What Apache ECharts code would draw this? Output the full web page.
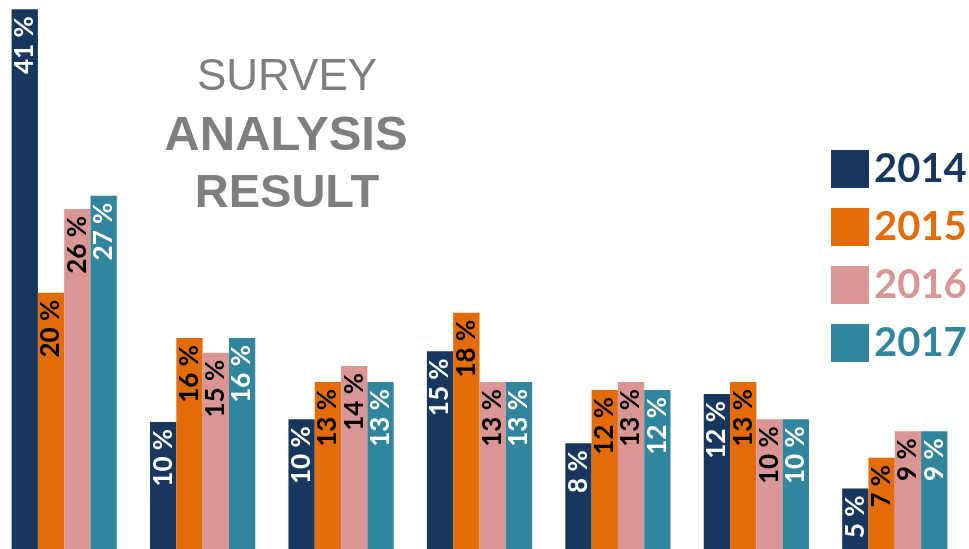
<!DOCTYPE html>
<html>
<head>
<meta charset="utf-8">
<style>
    html, body { margin: 0; padding: 0; background: #ffffff; overflow: hidden; }
    body { width: 969px; height: 549px; position: relative; }
    /* 图表容器往左上挪一点，让柱子贴到画面边缘 */
    #chart { position: absolute; left: -5px; top: -4px; width: 974px; height: 559px; }
</style>
<script src="https://cdn.jsdelivr.net/npm/echarts@6/dist/echarts.min.js"></script>
</head>
<body>
<div id="chart"></div>
<script>
// 分组（图中没有类目文字）
const groups = ['A', 'B', 'C', 'D', 'E', 'F', 'G']
const years = ['2014', '2015', '2016', '2017']
// 各年份数值（从图上量出来的，标签显示取整）
const data2014 = [41.0, 10.0, 10.2, 15.3, 8.4, 12.1, 5.0]
const data2015 = [19.7, 16.3, 13.0, 18.2, 12.4, 13.0, 7.3]
const data2016 = [26.0, 15.2, 14.2, 13.0, 13.0, 10.2, 9.3]
const data2017 = [27.0, 16.3, 13.0, 13.0, 12.4, 10.2, 9.3]
const colors = ['#17375e', '#e36c09', '#d99694', '#31859c']
const labelColors = ['#ffffff', '#000000', '#000000', '#ffffff']

const seriesData = [data2014, data2015, data2016, data2017]

const series = years.map((year, i) => ({
    name: year,
    type: 'bar',
    data: seriesData[i],
    barGap: '0%',
    barCategoryGap: '24%',
    itemStyle: {
        color: colors[i]
    },
    label: {
        show: true,
        position: 'insideTop',
        rotate: 90,
        align: 'right',
        verticalAlign: 'middle',
        distance: 7,
        color: labelColors[i],
        fontFamily: 'Lato',
        fontWeight: 'bold',
        fontSize: 26,
        formatter: p => Math.round(p.value) + ' %'
    }
}))

const chart = echarts.init(document.getElementById('chart'))
chart.setOption({
    animation: false,
    backgroundColor: '#ffffff',
    color: colors,
    grid: {
        left: 0,
        right: 5,
        top: 0,
        bottom: 0,
        containLabel: false
    },
    xAxis: {
        type: 'category',
        data: groups,
        show: false
    },
    yAxis: {
        type: 'value',
        min: 0,
        max: 42,
        show: false
    },
    legend: {
        orient: 'vertical',
        left: 831,
        top: 148,
        icon: 'rect',
        itemWidth: 38,
        itemHeight: 38,
        itemGap: 18,
        textStyle: {
            fontFamily: 'Lato',
            fontWeight: 'bold',
            fontSize: 40,
            lineHeight: 38
        },
        data: years.map((y, i) => ({
            name: y,
            textStyle: { color: colors[i] }
        }))
    },
    graphic: [
        {
            type: 'text',
            x: 292,
            y: 82,
            style: {
                text: 'SURVEY',
                fill: '#7f7f7f',
                font: 'normal 44px "Liberation Sans"',
                textAlign: 'center',
                textVerticalAlign: 'middle'
            }
        },
        {
            type: 'text',
            x: 291,
            y: 140,
            style: {
                text: 'ANALYSIS',
                fill: '#7f7f7f',
                font: 'bold 49px "Liberation Sans"',
                textAlign: 'center',
                textVerticalAlign: 'middle'
            }
        },
        {
            type: 'text',
            x: 292,
            y: 198,
            style: {
                text: 'RESULT',
                fill: '#7f7f7f',
                font: 'bold 47px "Liberation Sans"',
                textAlign: 'center',
                textVerticalAlign: 'middle'
            }
        }
    ],
    series: series
})
</script>
</body>
</html>
